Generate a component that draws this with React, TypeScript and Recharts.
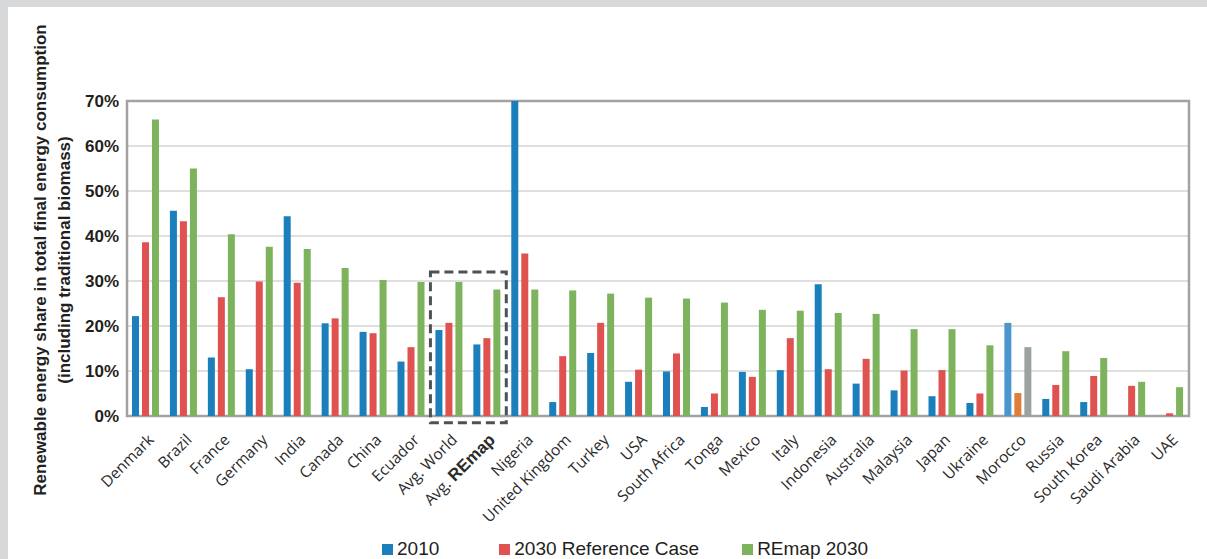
import React from "react";
import { BarChart, Bar, XAxis, YAxis, CartesianGrid, ReferenceArea, Cell } from "recharts";

const categories = [
  "Denmark", "Brazil", "France", "Germany", "India", "Canada", "China", "Ecuador",
  "Avg. World", "Avg. REmap", "Nigeria", "United Kingdom", "Turkey", "USA", "South Africa",
  "Tonga", "Mexico", "Italy", "Indonesia", "Australia", "Malaysia", "Japan", "Ukraine",
  "Morocco", "Russia", "South Korea", "Saudi Arabia", "UAE",
];
const values2010 = [
  22.2, 45.6, 13.0, 10.4, 44.4, 20.6, 18.7, 12.1, 19.1, 15.9, 70, 3.1, 14.0, 7.6, 9.9,
  2.0, 9.8, 10.2, 29.3, 7.2, 5.7, 4.4, 2.9, 20.7, 3.8, 3.1, 0, 0,
];
const valuesRef2030 = [
  38.6, 43.3, 26.4, 29.9, 29.6, 21.7, 18.4, 15.3, 20.7, 17.3, 36.1, 13.3, 20.7, 10.3, 13.9,
  5.0, 8.7, 17.3, 10.4, 12.7, 10.1, 10.2, 5.0, 5.1, 6.9, 8.9, 6.7, 0.6,
];
const valuesRemap2030 = [
  65.9, 55.0, 40.4, 37.6, 37.1, 32.9, 30.2, 29.8, 29.8, 28.1, 28.1, 27.9, 27.2, 26.3, 26.1,
  25.2, 23.6, 23.4, 22.9, 22.7, 19.3, 19.3, 15.7, 15.3, 14.4, 12.9, 7.6, 6.4,
];
const yTicks = [0, 10, 20, 30, 40, 50, 60, 70];
const seriesNames = ["2010", "2030 Reference Case", "REmap 2030"];

const COLORS = ["#1a7fbb", "#df5250", "#7db35c"];
// Morocco is drawn in a different palette in the source
const MOROCCO_COLORS = ["#4b97cb", "#e07d3c", "#9ba2a2"];

const data = categories.map((name, i) => ({
  name,
  y2010: values2010[i],
  ref2030: valuesRef2030[i],
  remap2030: valuesRemap2030[i],
}));

const FONT = "'Liberation Sans', Arial, sans-serif";

const CountryTick = (props: any) => {
  const { x, y, payload } = props;
  const label: string = payload.value;
  return (
    <g transform={`translate(${x + 5},${y + 13})`}>
      <text
        textAnchor="end"
        transform="rotate(-45)"
        fontSize={15.5}
        fill="#2b2b2b"
        fontFamily="'Open Sans', sans-serif"
        dy="0.35em"
      >
        {label === "Avg. REmap" ? (
          <>
            <tspan>Avg. </tspan>
            <tspan fontWeight={700} fontFamily={FONT} fontSize={17}>REmap</tspan>
          </>
        ) : (
          label
        )}
      </text>
    </g>
  );
};

const keys = ["y2010", "ref2030", "remap2030"];

export default function App() {
  return (
    <div style={{ position: "absolute", left: 0, top: 0, width: 1207, height: 559, background: "#d7d8da", overflow: "hidden" }}>
      <div style={{ position: "absolute", left: 8, top: 7, right: 0, bottom: 0, background: "#ffffff" }} />
      <div style={{ position: "absolute", left: 0, top: 0 }}>
        <BarChart
          width={1207}
          height={559}
          data={data}
          margin={{ top: 101, right: 18, left: 67, bottom: 0 }}
          barSize={7}
          barGap={3}
        >
          <CartesianGrid vertical={false} stroke="#d5d5d5" strokeWidth={1.5} />
          <XAxis
            dataKey="name"
            interval={0}
            height={143}
            axisLine={false}
            tickLine={false}
            tick={<CountryTick />}
          />
          <YAxis
            width={60}
            domain={[0, 70]}
            ticks={yTicks}
            allowDataOverflow
            axisLine={false}
            tickLine={false}
            tickFormatter={(v: number) => `${v}%`}
            tick={{ fontSize: 17, fill: "#231f20", fontFamily: FONT, fontWeight: 600 }}
          />
          {keys.map((k, s) => (
            <Bar key={k} dataKey={k} name={seriesNames[s]} fill={COLORS[s]} isAnimationActive={false}>
              {data.map((d) => (
                <Cell key={d.name} fill={d.name === "Morocco" ? MOROCCO_COLORS[s] : COLORS[s]} />
              ))}
            </Bar>
          ))}
          <ReferenceArea
            x1="Denmark"
            x2="UAE"
            y1={0}
            y2={70}
            fill="none"
            stroke="#a2a2a2"
            strokeWidth={2.5}
            ifOverflow="visible"
          />
          <ReferenceArea
            x1="Avg. World"
            x2="Avg. REmap"
            y1={-1.5}
            y2={32}
            fill="none"
            stroke="#4b5356"
            strokeWidth={3}
            strokeDasharray="9 5"
            ifOverflow="visible"
          />
        </BarChart>
      </div>
      <svg style={{ position: "absolute", left: 0, top: 0 }} width={120} height={559}>
        <g fontFamily={FONT} fontWeight={700} fontSize={17} fill="#231f20" textAnchor="middle">
          <text transform="translate(46,260) rotate(-90)">
            Renewable energy share in total final energy consumption
          </text>
          <text transform="translate(70,260) rotate(-90)">(including traditional biomass)</text>
        </g>
      </svg>
      <div
        style={{
          position: "absolute",
          left: 382,
          top: 538,
          display: "flex",
          fontFamily: FONT,
          fontSize: 19,
          color: "#231f20",
          lineHeight: "22px",
        }}
      >
        {seriesNames.map((n, i) => (
          <div key={n} style={{ display: "flex", alignItems: "center", marginRight: [60, 43, 0][i] }}>
            <span style={{ width: 11, height: 11, background: COLORS[i], display: "inline-block", marginRight: 4 }} />
            <span>{n}</span>
          </div>
        ))}
      </div>
    </div>
  );
}
